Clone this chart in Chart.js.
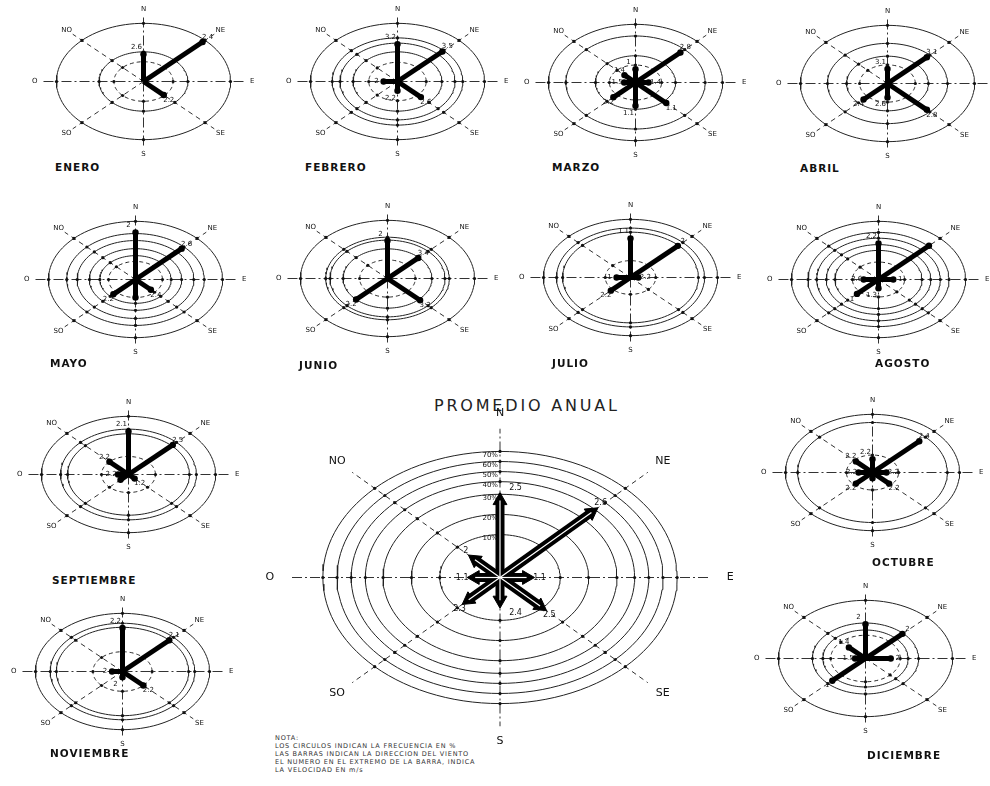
<!DOCTYPE html>
<html>
<head>
<meta charset="utf-8">
<script src="https://cdn.jsdelivr.net/npm/chart.js@4.4.1/dist/chart.umd.min.js"></script>
<style>
body { margin: 0; background: #fff; width: 990px; height: 786px; position: relative; overflow: hidden; font-family: "DejaVu Sans", sans-serif; }
canvas { position: absolute; }
.mes { position: absolute; font-family: "DejaVu Sans", sans-serif; font-weight: bold; font-size: 10.5px; letter-spacing: 1px; color: #111; }
#titulo { position: absolute; left: 434px; top: 396px; font-size: 16px; letter-spacing: 2.8px; color: #222; }
#nota { position: absolute; left: 275px; top: 734px; font-size: 6.5px; line-height: 8px; color: #333; letter-spacing: 0.8px; }
</style>
</head>
<body>
<div id="titulo">PROMEDIO ANUAL</div>
<div id="nota">NOTA:<br>LOS CIRCULOS INDICAN LA FRECUENCIA EN %<br>LAS BARRAS INDICAN LA DIRECCION DEL VIENTO<br>EL NUMERO EN EL EXTREMO DE LA BARRA, INDICA<br>LA VELOCIDAD EN m/s</div>
<script>
// direcciones en el orden N, NE, E, SE, S, SO, O, NO
const DIRECCIONES = ['N', 'NE', 'E', 'SE', 'S', 'SO', 'O', 'NO'];
const ANGULOS = [90, 45, 0, -45, -90, -135, 180, 135];

const MESES = ['ENERO', 'FEBRERO', 'MARZO', 'ABRIL', 'MAYO', 'JUNIO',
               'JULIO', 'AGOSTO', 'SEPTIEMBRE', 'OCTUBRE', 'NOVIEMBRE', 'DICIEMBRE'];

// frecuencia relativa por direccion (anillo exterior = 1)
const frecuencias = [
    [0.47, 0.96, 0, 0.33, 0, 0, 0, 0],
    [0.64, 0.73, 0, 0.38, 0.16, 0, 0.16, 0],
    [0.23, 0.73, 0.15, 0.50, 0.40, 0.36, 0.13, 0.18],
    [0.25, 0.64, 0, 0.64, 0.24, 0.39, 0, 0],
    [0.81, 0.75, 0, 0.25, 0.31, 0.36, 0, 0],
    [0.65, 0.50, 0, 0.53, 0, 0.51, 0, 0],
    [0.67, 0.77, 0.09, 0, 0, 0.32, 0.16, 0],
    [0.62, 0.82, 0.17, 0, 0.15, 0.35, 0.17, 0],
    [0.74, 0.72, 0, 0.10, 0, 0.13, 0.12, 0.31],
    [0.23, 0.76, 0.16, 0.27, 0.10, 0.27, 0.16, 0.27],
    [0.75, 0.76, 0, 0.34, 0.10, 0, 0.12, 0],
    [0.59, 0.60, 0.29, 0, 0, 0.54, 0.12, 0.27]
];

// velocidad (m/s) en el extremo de cada barra
const velocidades = [
    [2.6, 2.4, null, 2.2, null, null, null, null],
    [3.2, 3.5, null, 2.6, 2.2, null, 2, null],
    [1.0, 2.8, 1.4, 1.1, 1.1, 2.2, 1.5, 1.4],
    [3.1, 3.1, null, 2.8, 2.6, 2.4, null, null],
    [2.0, 2.6, null, 2.4, null, 2.2, null, null],
    [2.0, 3.4, null, 3.2, null, 2.2, null, null],
    [1.1, 2, 2.2, null, null, 2.2, 1, null],
    [2.2, null, 1, null, 1.3, 1, 2.6, null],
    [2.1, 2.5, null, 1.2, null, null, 2.2, 2.2],
    [2.2, 2.4, 2.2, 2.2, null, 2.2, 2.2, 2.2],
    [2.2, 2.1, null, 2.2, 2, null, 2, null],
    [2, 2, 2, null, null, 1, 1.5, 1.4]
];

// anillos de frecuencia de cada rosa
const anillos = [
    [0.34, 0.51, 1.0],
    [0.33, 0.51, 0.66, 0.75, 1.0],
    [0.30, 0.46, 0.80, 1.0],
    [0.32, 0.47, 0.69, 1.0],
    [0.31, 0.41, 0.53, 0.67, 0.79, 1.0],
    [0.32, 0.51, 0.66, 0.71, 1.0],
    [0.29, 0.78, 0.85, 1.0],
    [0.30, 0.50, 0.60, 0.71, 0.81, 1.0],
    [0.31, 0.70, 0.78, 1.0],
    [0.30, 0.86, 1.0],
    [0.34, 0.76, 0.83, 1.0],
    [0.40, 0.49, 0.61, 1.0]
];

const frecuenciaAnual = [0.61, 0.73, 0.15, 0.32, 0.18, 0.25, 0.14, 0.20];
const velocidadAnual = [2.5, 2.6, 1.1, 2.5, 2.4, 2.3, 1.1, 2];
const anillosAnual = [0.34, 0.50, 0.66, 0.76, 0.84, 0.92, 1.0];
const etiquetasAnillosAnual = ['10%', '20%', '30%', '40%', '50%', '60%', '70%'];

// centro de cada rosa mensual en la pagina
const centros = [
    [143, 81], [397, 81], [635, 82], [887, 83],
    [135, 279], [387, 278], [630, 277], [878, 279],
    [128, 474], [872, 472], [122, 671], [865, 658]
];
const posEtiquetas = [
    [55, 161], [305, 161], [552, 161], [800, 162],
    [50, 357], [299, 359], [552, 357], [875, 357],
    [52, 574], [872, 556], [50, 747], [867, 749]
];

function rad(d) { return d * Math.PI / 180; }

function elipse(r) {
    const pts = [];
    for (let i = 0; i <= 120; i++) {
        const t = i / 120 * 2 * Math.PI;
        pts.push({ x: r * Math.cos(t), y: r * Math.sin(t) });
    }
    return pts;
}

const etiquetasRosa = {
    id: 'etiquetasRosa',
    afterDatasetsDraw(chart, args, o) {
        const { ctx } = chart;
        const sx = chart.scales.x, sy = chart.scales.y;
        ctx.save();
        ctx.fillStyle = '#111';
        ctx.textAlign = 'center';
        ctx.textBaseline = 'middle';
        ctx.font = o.dirFont;
        DIRECCIONES.forEach((d, i) => {
            const a = rad(ANGULOS[i]);
            ctx.fillText(d, sx.getPixelForValue(o.dirR * Math.cos(a)), sy.getPixelForValue(o.dirR * Math.sin(a)));
        });
        ctx.font = o.velFont;
        o.vel.forEach((v, i) => {
            if (v == null) return;
            const a = rad(ANGULOS[i]);
            const f = o.freq[i];
            let px = sx.getPixelForValue(f * Math.cos(a)) + o.off * Math.cos(a);
            let py = sy.getPixelForValue(f * Math.sin(a)) - o.off * Math.sin(a);
            if (i === 0 || i === 4) px += o.nSide * o.off;
            ctx.fillText(String(v), px, py);
        });
        if (o.ringLabels) {
            ctx.font = o.ringFont;
            ctx.textAlign = 'right';
            o.rings.forEach((r, i) => {
                if (!o.ringLabels[i]) return;
                ctx.fillText(o.ringLabels[i], sx.getPixelForValue(0) - 2, sy.getPixelForValue(r) + 4);
            });
        }
        ctx.restore();
    }
};

function crearRosa(left, top, w, h, freq, vel, rings, cfg) {
    const canvas = document.createElement('canvas');
    canvas.width = w;
    canvas.height = h;
    canvas.style.left = left + 'px';
    canvas.style.top = top + 'px';
    document.body.appendChild(canvas);

    const datasets = [];
    rings.forEach((r, i) => {
        datasets.push({
            data: elipse(r), showLine: true, borderColor: '#222', borderWidth: 1,
            pointRadius: 0, borderDash: (i === 0 && cfg.innerDash) ? [4, 3] : [], order: 3
        });
    });
    ANGULOS.forEach((ang, i) => {
        const a = rad(ang);
        const pts = [{ x: 0, y: 0 }]
            .concat(rings.map(r => ({ x: r * Math.cos(a), y: r * Math.sin(a) })))
            .concat([{ x: cfg.L * Math.cos(a), y: cfg.L * Math.sin(a) }]);
        const n = pts.length;
        datasets.push({
            data: pts, showLine: true, borderColor: '#333', borderWidth: 1,
            borderDash: i % 2 ? [5, 4] : [10, 3, 2, 3],
            pointRadius: pts.map((p, k) => (k > 0 && k < n - 1) ? 1.6 : 0),
            pointBackgroundColor: '#111', pointBorderWidth: 0, order: 2
        });
    });
    freq.forEach((f, i) => {
        if (!f) return;
        const a = rad(ANGULOS[i]);
        const end = { x: f * Math.cos(a), y: f * Math.sin(a) };
        if (cfg.arrows) {
            const rot = Math.atan2(Math.cos(a) * w, Math.sin(a) * h) * 180 / Math.PI;
            datasets.push({
                data: [{ x: 0, y: 0 }, end], showLine: true, borderColor: '#000', borderWidth: 9,
                pointStyle: 'triangle', pointRadius: [0, 8], pointRotation: rot,
                pointBackgroundColor: '#000', pointBorderColor: '#000', pointBorderWidth: 1, order: 1
            });
            datasets.push({
                data: [{ x: 0, y: 0 }, end], showLine: true, borderColor: '#fff', borderWidth: 1.2,
                pointRadius: 0, order: 0
            });
        } else {
            datasets.push({
                data: [{ x: 0, y: 0 }, end], showLine: true, borderColor: '#000', borderWidth: 5,
                pointRadius: [0, 3.2], pointBackgroundColor: '#000', pointBorderWidth: 0, order: 0
            });
        }
    });

    return new Chart(canvas, {
        type: 'scatter',
        data: { datasets: datasets },
        options: {
            responsive: false,
            animation: false,
            layout: { padding: 0, autoPadding: false },
            elements: { line: { tension: 0 } },
            scales: {
                x: { display: false, min: -cfg.R, max: cfg.R },
                y: { display: false, min: -cfg.R, max: cfg.R }
            },
            plugins: {
                legend: { display: false },
                tooltip: { enabled: false },
                etiquetasRosa: {
                    dirR: cfg.dirR, dirFont: cfg.dirFont, velFont: cfg.velFont, off: cfg.off, nSide: cfg.nSide,
                    vel: vel, freq: freq, rings: rings,
                    ringLabels: cfg.ringLabels, ringFont: cfg.ringFont
                }
            }
        },
        plugins: [etiquetasRosa]
    });
}

// rosas mensuales
const RX = 87, RY = 58, R = 1.35;
MESES.forEach((mes, m) => {
    const w = Math.round(2 * R * RX), h = Math.round(2 * R * RY);
    const [cx, cy] = centros[m];
    crearRosa(cx - w / 2, cy - h / 2, w, h, frecuencias[m], velocidades[m], anillos[m], {
        R: R, L: 1.15, dirR: 1.25, off: 7, nSide: -1, innerDash: true,
        dirFont: '7px "DejaVu Sans"', velFont: '7px "DejaVu Sans"'
    });
    const div = document.createElement('div');
    div.className = 'mes';
    div.textContent = mes;
    div.style.left = posEtiquetas[m][0] + 'px';
    div.style.top = posEtiquetas[m][1] + 'px';
    document.body.appendChild(div);
});

// promedio anual
const RXA = 177, RYA = 126, RA = 1.4;
const wA = Math.round(2 * RA * RXA), hA = Math.round(2 * RA * RYA);
crearRosa(500 - wA / 2, 577 - hA / 2, wA, hA, frecuenciaAnual, velocidadAnual, anillosAnual, {
    R: RA, L: 1.18, dirR: 1.3, off: 13, nSide: 1.2, innerDash: false, arrows: true,
    dirFont: '11px "DejaVu Sans"', velFont: '8px "DejaVu Sans"',
    ringLabels: etiquetasAnillosAnual, ringFont: '7px "DejaVu Sans"'
});
</script>
</body>
</html>
